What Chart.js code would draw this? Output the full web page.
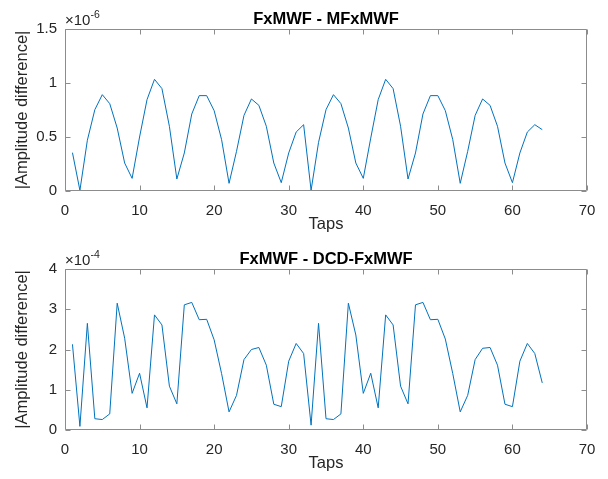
<!DOCTYPE html>
<html>
<head>
<meta charset="utf-8">
<script src="https://cdn.jsdelivr.net/npm/chart.js@4.4.1/dist/chart.umd.min.js"></script>
<style>
  body { margin: 0; background: #fff; }
  canvas { position: absolute; left: 0; }
</style>
</head>
<body>
<canvas id="top" width="608" height="240" style="top:0"></canvas>
<canvas id="bottom" width="608" height="240" style="top:239px"></canvas>
<script>
// tap index
var taps = [1, 2, 3, 4, 5, 6, 7, 8, 9, 10, 11, 12, 13, 14, 15, 16,
  17, 18, 19, 20, 21, 22, 23, 24, 25, 26, 27, 28, 29, 30, 31, 32,
  33, 34, 35, 36, 37, 38, 39, 40, 41, 42, 43, 44, 45, 46, 47, 48,
  49, 50, 51, 52, 53, 54, 55, 56, 57, 58, 59, 60, 61, 62, 63, 64];

// FxMWF - MFxMWF, in units of 1e-6
var diffMF = [0.355, 0.006, 0.47, 0.753, 0.892, 0.809, 0.583, 0.259,
  0.117, 0.50, 0.846, 1.034, 0.948, 0.599, 0.111, 0.352,
  0.713, 0.883, 0.883, 0.744, 0.475, 0.071, 0.367, 0.70,
  0.852, 0.793, 0.599, 0.259, 0.077, 0.352, 0.546, 0.614,
  0.006, 0.45, 0.753, 0.892, 0.809, 0.583, 0.259, 0.117,
  0.49, 0.846, 1.034, 0.948, 0.60, 0.111, 0.352, 0.713,
  0.883, 0.883, 0.744, 0.475, 0.071, 0.367, 0.70, 0.852,
  0.793, 0.599, 0.259, 0.077, 0.352, 0.546, 0.614, 0.568];

// FxMWF - DCD-FxMWF, in units of 1e-4
var diffDCD = [2.13, 0.09, 2.65, 0.28, 0.26, 0.40, 3.15, 2.28,
  0.91, 1.41, 0.55, 2.86, 2.61, 1.09, 0.65, 3.11,
  3.17, 2.74, 2.75, 2.24, 1.40, 0.45, 0.86, 1.75,
  2.00, 2.05, 1.61, 0.64, 0.58, 1.71, 2.15, 1.90,
  0.12, 2.65, 0.28, 0.26, 0.40, 3.15, 2.36, 0.91,
  1.41, 0.55, 2.86, 2.61, 1.09, 0.65, 3.11, 3.17,
  2.74, 2.75, 2.26, 1.40, 0.45, 0.86, 1.75, 2.03,
  2.05, 1.61, 0.64, 0.58, 1.71, 2.15, 1.90, 1.17];

var xTicks = [0, 10, 20, 30, 40, 50, 60, 70];
var yTicksMF = [0, 0.5, 1, 1.5];
var yTicksDCD = [0, 1, 2, 3, 4];

var txt = '#262626';
var axisCol = '#8c8c8c';
var fontFam = '"Liberation Sans", Arial, Helvetica, sans-serif';

// box with inward ticks, title and exponent like matlab
var matlabAxes = {
  id: 'matlabAxes',
  afterDraw: function (chart, args, opts) {
    var ctx = chart.ctx, a = chart.chartArea;
    var x = chart.scales.x, y = chart.scales.y;
    var L = Math.round(a.left) + 0.5, R = Math.round(a.right) - 0.5;
    var T = Math.round(a.top) + 0.5, B = Math.round(a.bottom) - 0.5;
    ctx.save();
    ctx.strokeStyle = axisCol;
    ctx.lineWidth = 1;
    ctx.beginPath();
    ctx.rect(L, T, R - L, B - T);
    x.ticks.forEach(function (t) {
      var p = Math.round(x.getPixelForValue(t.value)) + 0.5;
      ctx.moveTo(p, B); ctx.lineTo(p, B - 5);
      ctx.moveTo(p, T); ctx.lineTo(p, T + 5);
    });
    y.ticks.forEach(function (t) {
      var p = Math.round(y.getPixelForValue(t.value)) + 0.5;
      ctx.moveTo(L, p); ctx.lineTo(L + 5, p);
      ctx.moveTo(R, p); ctx.lineTo(R - 5, p);
    });
    ctx.stroke();

    ctx.fillStyle = '#000';
    ctx.font = 'bold 16.5px ' + fontFam;
    ctx.textAlign = 'center';
    ctx.textBaseline = 'alphabetic';
    ctx.fillText(opts.title, (a.left + a.right) / 2, a.top - 5);

    ctx.fillStyle = txt;
    ctx.textAlign = 'left';
    ctx.font = '15px ' + fontFam;
    ctx.fillText('\u00d710', a.left, a.top - 4);
    var w = ctx.measureText('\u00d710').width;
    ctx.font = '10.5px ' + fontFam;
    ctx.fillText(opts.exp, a.left + w, a.top - 11);
    ctx.restore();
  }
};

function makeChart(id, values, yTicks, title, exp, topPad) {
  return new Chart(document.getElementById(id), {
    type: 'line',
    data: {
      labels: taps,
      datasets: [{
        data: taps.map(function (t, i) { return { x: t, y: values[i] }; }),
        borderColor: '#0072BD',
        borderWidth: 1,
        pointRadius: 0,
        tension: 0,
        fill: false
      }]
    },
    options: {
      responsive: false,
      animation: false,
      layout: { padding: { top: topPad, right: 21, left: 0, bottom: 0 } },
      plugins: {
        legend: { display: false },
        tooltip: { enabled: false },
        matlabAxes: { title: title, exp: exp }
      },
      scales: {
        x: {
          type: 'linear',
          min: xTicks[0],
          max: xTicks[xTicks.length - 1],
          afterBuildTicks: function (s) { s.ticks = xTicks.map(function (v) { return { value: v }; }); },
          afterFit: function (s) { s.height = 49; },
          grid: { display: false, drawTicks: false },
          border: { display: false },
          ticks: { color: txt, font: { family: fontFam, size: 15 }, padding: 11, maxRotation: 0, autoSkip: false,
            callback: function (v) { return String(v); } },
          title: { display: true, text: 'Taps', color: txt, font: { family: fontFam, size: 16.5 }, padding: { top: 0, bottom: 6 } }
        },
        y: {
          min: yTicks[0],
          max: yTicks[yTicks.length - 1],
          afterBuildTicks: function (s) { s.ticks = yTicks.map(function (v) { return { value: v }; }); },
          afterFit: function (s) { s.width = 65; },
          grid: { display: false, drawTicks: false },
          border: { display: false },
          ticks: { color: txt, font: { family: fontFam, size: 15 }, padding: 8,
            callback: function (v) { return String(v); } },
          title: { display: true, text: '|Amplitude difference|', color: txt, font: { family: fontFam, size: 16.5 }, padding: { top: 13, bottom: 0 } }
        }
      }
    },
    plugins: [matlabAxes]
  });
}

makeChart('top', diffMF, yTicksMF, 'FxMWF - MFxMWF', '-6', 29);
makeChart('bottom', diffDCD, yTicksDCD, 'FxMWF - DCD-FxMWF', '-4', 30);
</script>
</body>
</html>
